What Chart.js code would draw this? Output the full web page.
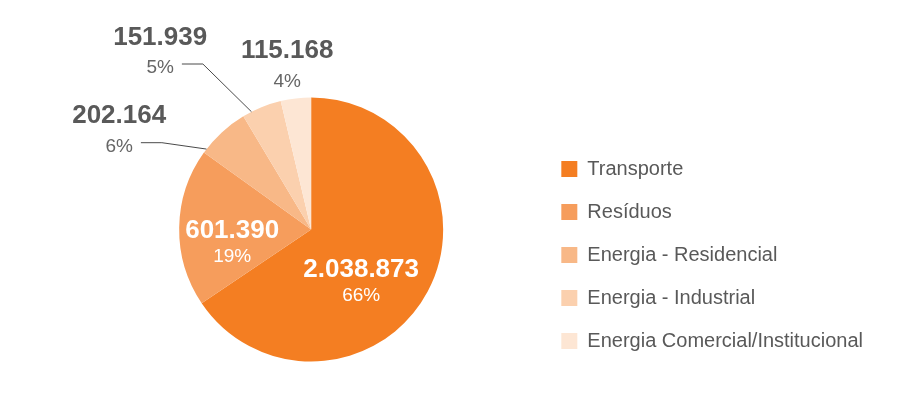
<!DOCTYPE html>
<html lang="pt-BR">
<head>
<meta charset="utf-8">
<title>Emissões por setor</title>
<script src="https://cdn.jsdelivr.net/npm/chart.js@4.4.1/dist/chart.umd.min.js"></script>
<style>
  html, body { margin: 0; padding: 0; background: #fff; }
  #wrap { position: relative; width: 899px; height: 419px; }
</style>
</head>
<body>
<div id="wrap"><canvas id="pieChart"></canvas></div>
<script>
// Dados
const categories = [
  "Transporte",
  "Resíduos",
  "Energia - Residencial",
  "Energia - Industrial",
  "Energia Comercial/Institucional",
];
const values = [2038873, 601390, 202164, 151939, 115168];
const percentLabels = ["66%", "19%", "6%", "5%", "4%"];
const sliceColors = ["#F47E22", "#F69D5C", "#F8B887", "#FBD0AE", "#FDE6D4"];

// Posição dos rótulos (em px a partir do centro da pizza)
const labelLayout = [
  { dx: 50, dy: 40.5, gap: 26, inside: true },
  { dx: -79, dy: 1.5, gap: 25.5, inside: true },
  { dx: -192, dy: -113.5, gap: 30.7, inside: false, anchor: 0.08 },
  { dx: -151, dy: -192, gap: 30.5, inside: false, anchor: 0.23 },
  { dx: -24, dy: -178.5, gap: 31, inside: false },
];

function formatNumber(v) {
  return String(v).replace(/\B(?=(\d{3})+(?!\d))/g, ".");
}

const FONT = "Arial, 'Liberation Sans', Helvetica, sans-serif";

// Rótulos de valor + linhas de chamada
const sliceLabels = {
  id: "sliceLabels",
  afterDatasetsDraw(chart) {
    const ctx = chart.ctx;
    const arcs = chart.getDatasetMeta(0).data;
    ctx.save();
    ctx.textAlign = "center";
    ctx.textBaseline = "middle";
    arcs.forEach((arc, i) => {
      const lay = labelLayout[i];
      const { x, y, startAngle, endAngle, outerRadius } = arc.getProps(
        ["x", "y", "startAngle", "endAngle", "outerRadius"], true
      );
      const tx = x + lay.dx;
      const ty = y + lay.dy;

      ctx.fillStyle = lay.inside ? "#ffffff" : "#595959";
      ctx.font = "bold 26px " + FONT;
      ctx.fillText(formatNumber(values[i]), tx, ty);

      ctx.fillStyle = lay.inside ? "#ffffff" : "#666666";
      ctx.font = "19px " + FONT;
      ctx.fillText(percentLabels[i], tx, ty + lay.gap);

      if (lay.anchor !== undefined) {
        const pw = ctx.measureText(percentLabels[i]).width;
        const ly = ty + lay.gap - 4;
        const x0 = tx + pw / 2 + 8;
        const a = startAngle + (endAngle - startAngle) * lay.anchor;
        ctx.strokeStyle = "#4a4a4a";
        ctx.lineWidth = 1;
        ctx.beginPath();
        ctx.moveTo(x0, ly);
        ctx.lineTo(x0 + 21, ly);
        ctx.lineTo(x + Math.cos(a) * outerRadius, y + Math.sin(a) * outerRadius);
        ctx.stroke();
      }
    });
    ctx.restore();
  },
};

const ctx = document.getElementById("pieChart").getContext("2d");
const pieChart = new Chart(ctx, {
  type: "pie",
  data: {
    labels: categories,
    datasets: [
      {
        data: values,
        backgroundColor: sliceColors,
        borderWidth: 0,
        hoverOffset: 0,
        radius: 132,
      },
    ],
  },
  options: {
    responsive: true,
    maintainAspectRatio: false,
    animation: false,
    layout: {
      padding: { left: 84, right: 26, top: 85, bottom: 45 },
    },
    plugins: {
      tooltip: { enabled: false },
      legend: {
        position: "right",
        align: "end",
        labels: {
          boxWidth: 16,
          boxHeight: 16,
          padding: 23,
          color: "#595959",
          font: { family: FONT, size: 20 },
        },
      },
    },
  },
  plugins: [sliceLabels],
});
</script>
</body>
</html>
